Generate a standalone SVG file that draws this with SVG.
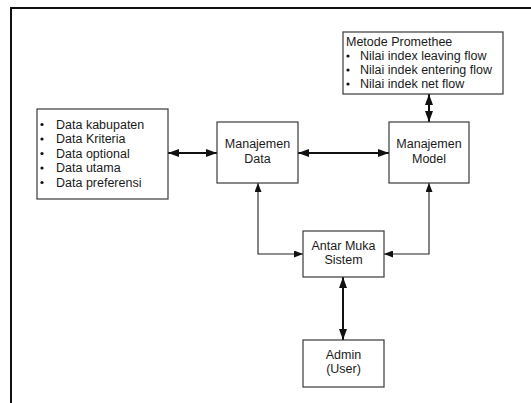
<svg xmlns="http://www.w3.org/2000/svg" width="531" height="403" viewBox="0 0 531 403">
<style>
.box{fill:#fff;stroke:#3a3a3a;stroke-width:1.2}
text{font-family:"Liberation Sans",Arial,sans-serif;font-size:12.5px;fill:#1a1a1a}
.c{text-anchor:middle}
.thick{fill:none;stroke:#111;stroke-width:2}
.thin{fill:none;stroke:#222;stroke-width:1.1}
</style>
<defs>
<marker id="big" viewBox="0 0 11 8" refX="11" refY="4" markerWidth="11" markerHeight="8" markerUnits="userSpaceOnUse" orient="auto-start-reverse">
<path d="M0,0 L11,4 L0,8 z" fill="#111"/>
</marker>
<marker id="small" viewBox="0 0 9 7" refX="9" refY="3.5" markerWidth="9" markerHeight="7" markerUnits="userSpaceOnUse" orient="auto-start-reverse">
<path d="M0,0 L9,3.5 L0,7 z" fill="#111"/>
</marker>
</defs>
<rect width="531" height="403" fill="#fff"/>
<path d="M11,403 V8 H531" fill="none" stroke="#111" stroke-width="2"/>

<g id="connectors">
<path class="thick" d="M168,153 H217" marker-start="url(#big)" marker-end="url(#big)"/>
<path class="thick" d="M298,153 H389" marker-start="url(#big)" marker-end="url(#big)"/>
<path class="thick" d="M429,94 V122" marker-start="url(#big)" marker-end="url(#big)"/>
<path class="thin" d="M258,183 V254 H303" marker-start="url(#small)" marker-end="url(#small)"/>
<path class="thin" d="M429,183 V254 H384" marker-start="url(#small)" marker-end="url(#small)"/>
<path class="thick" d="M343,277 V340" marker-start="url(#big)" marker-end="url(#big)"/>
</g>

<g id="metode">
<rect class="box" x="343" y="32" width="160" height="62"/>
<text x="346" y="46">Metode Promethee</text>
<circle cx="348" cy="56" r="1.6" fill="#111"/>
<text x="360" y="60">Nilai index leaving flow</text>
<circle cx="348" cy="70" r="1.6" fill="#111"/>
<text x="360" y="74">Nilai indek entering flow</text>
<circle cx="348" cy="84" r="1.6" fill="#111"/>
<text x="360" y="88">Nilai indek net flow</text>
</g>

<g id="data-list">
<rect class="box" x="37" y="109" width="131" height="90"/>
<circle cx="42" cy="124.5" r="1.6" fill="#111"/>
<text x="56" y="128.5">Data kabupaten</text>
<circle cx="42" cy="139" r="1.6" fill="#111"/>
<text x="56" y="143">Data Kriteria</text>
<circle cx="42" cy="153.5" r="1.6" fill="#111"/>
<text x="56" y="157.5">Data optional</text>
<circle cx="42" cy="168" r="1.6" fill="#111"/>
<text x="56" y="172">Data utama</text>
<circle cx="42" cy="182.5" r="1.6" fill="#111"/>
<text x="56" y="186.5">Data preferensi</text>
</g>

<g id="manajemen-data">
<rect class="box" x="217" y="122" width="81" height="61"/>
<text class="c" x="257.5" y="148">Manajemen</text>
<text class="c" x="257.5" y="163">Data</text>
</g>

<g id="manajemen-model">
<rect class="box" x="389" y="122" width="80" height="61"/>
<text class="c" x="429" y="148">Manajemen</text>
<text class="c" x="429" y="163">Model</text>
</g>

<g id="antar-muka">
<rect class="box" x="303" y="231" width="81" height="46"/>
<text class="c" x="343.5" y="250">Antar Muka</text>
<text class="c" x="343.5" y="264">Sistem</text>
</g>

<g id="admin">
<rect class="box" x="303" y="340" width="81" height="47"/>
<text class="c" x="343.5" y="359">Admin</text>
<text class="c" x="343.5" y="373">(User)</text>
</g>
</svg>
